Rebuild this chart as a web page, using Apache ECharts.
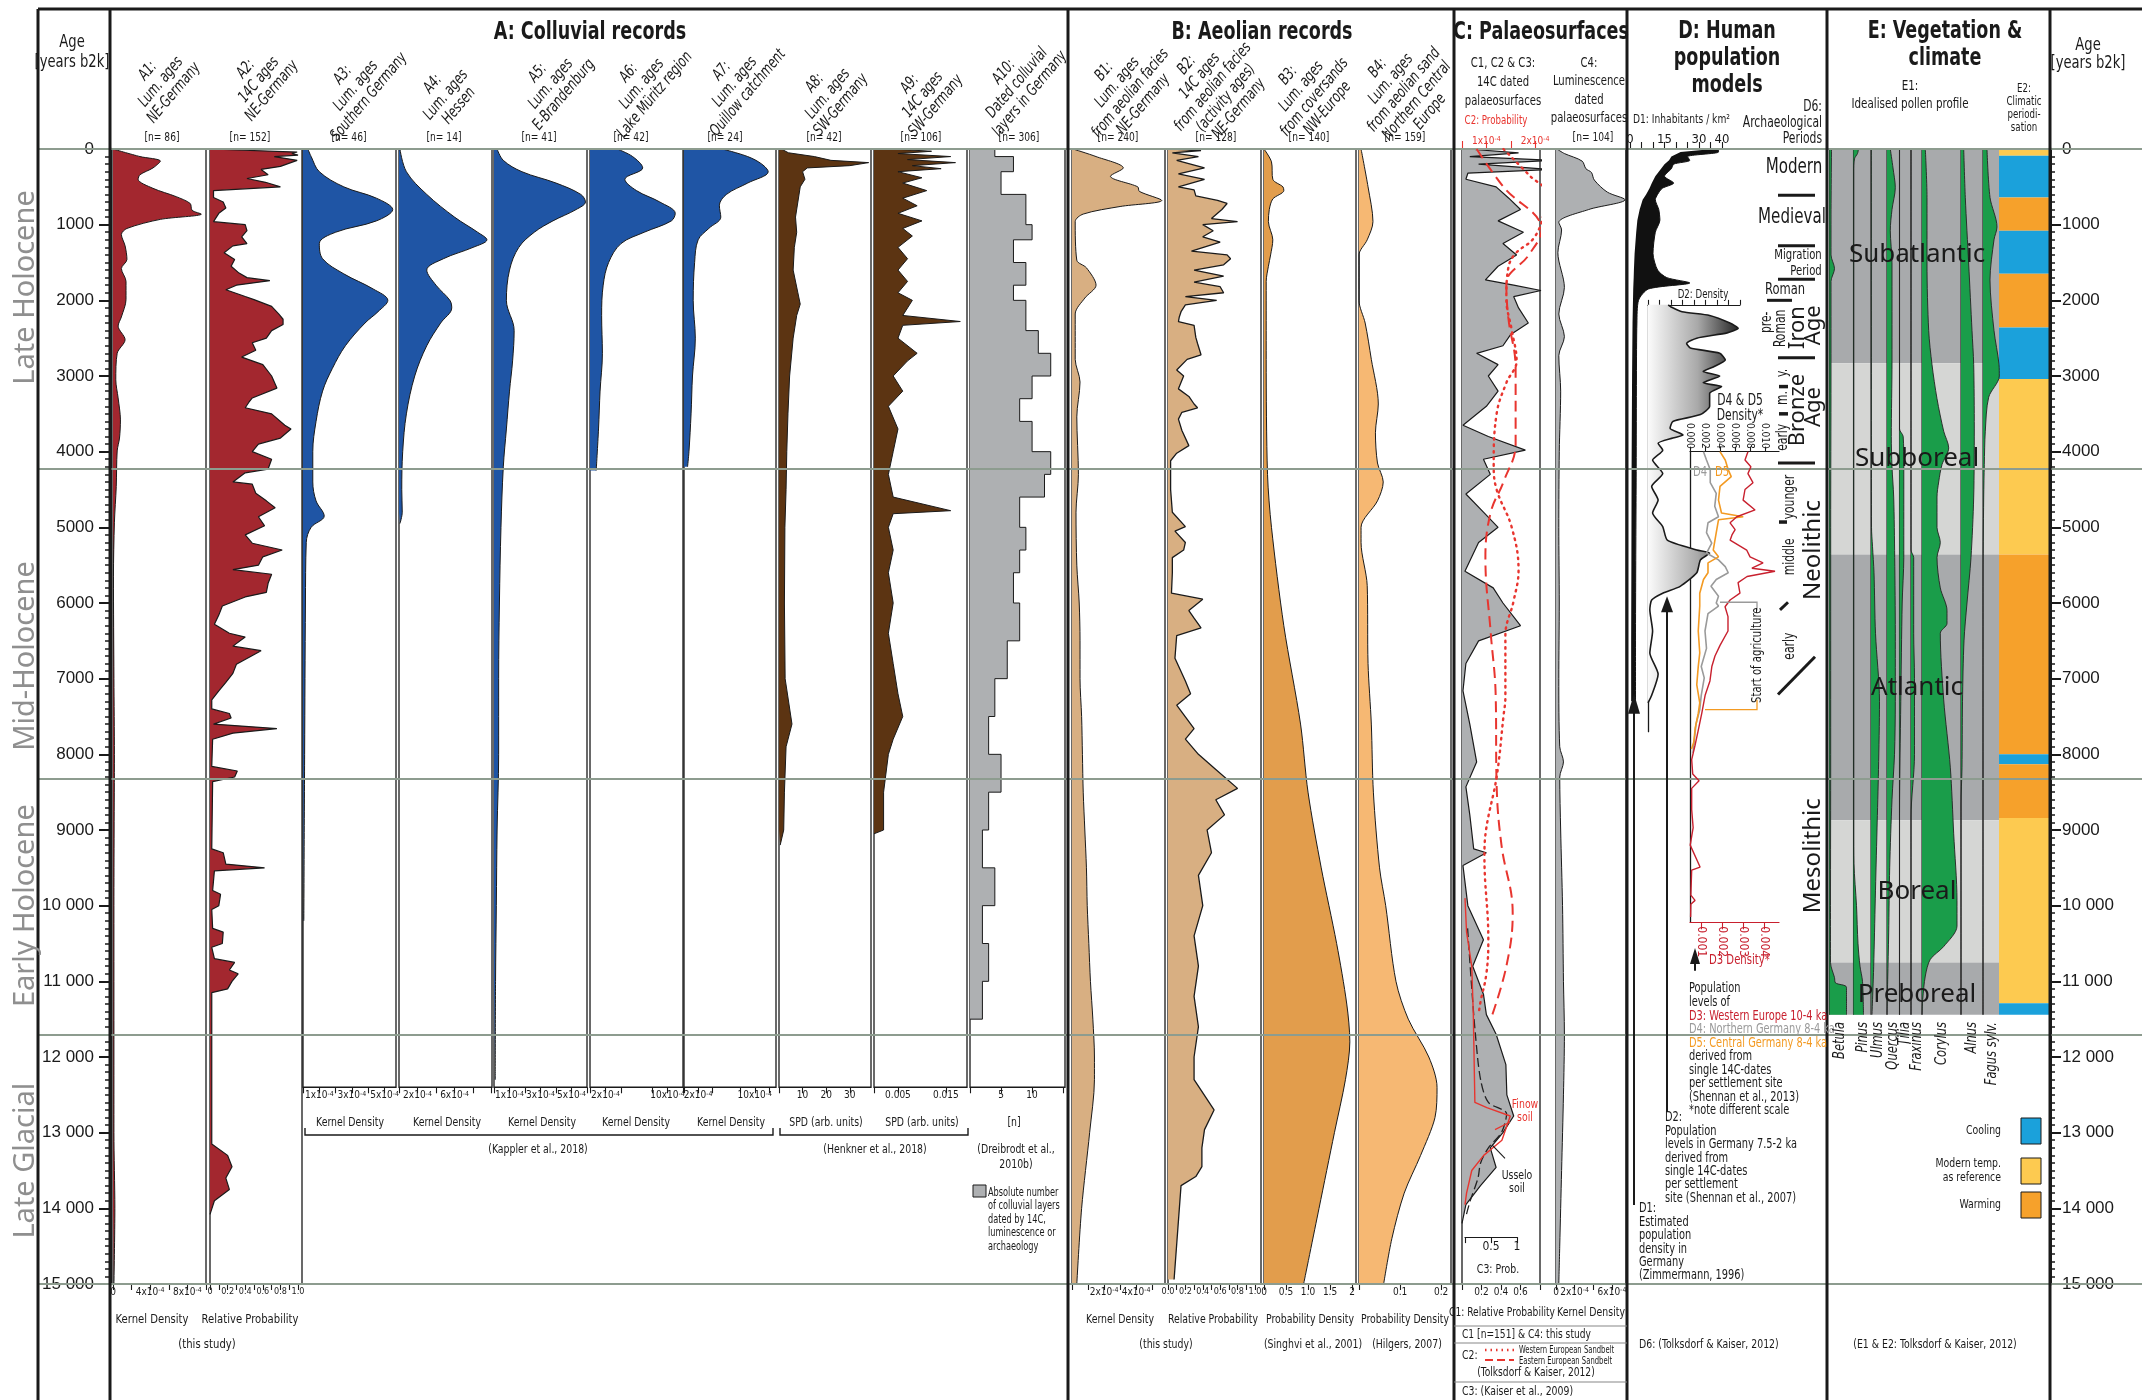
<!DOCTYPE html>
<html><head><meta charset="utf-8"><title>Holocene colluvial, aeolian and human records</title>
<script src="https://cdn.jsdelivr.net/npm/echarts@6.0.0/dist/echarts.min.js"></script>
<style>html,body{margin:0;padding:0;background:#fff}#chart{width:2142px;height:1400px}</style>
</head><body><div id="chart"></div>
<script>
// ===================== DATA (ages in years b2k) =====================
// A: colluvial records  [age, value]
const a1KernelDensity = [[0,0],[100,2.9],[160,5.1],[250,4.3],[340,2.9],[400,2.7],[520,4.3],[630,6.8],[720,8.3],[810,8.5],[860,9.5],[930,5.1],[1050,1.5],[1130,0.9],[1280,1.3],[1460,1.5],[1580,0.9],[1750,1.4],[1990,1.4],[2220,0.9],[2340,0.55],[2520,1.3],[2700,0.45],[3050,0.3],[3290,0.55],[3580,0.8],[3820,0.7],[3990,0.45],[4460,0.35],[4940,0.15],[5650,0.05],[7000,0.1],[8000,0.15],[9000,0.12],[10000,0.1],[12000,0.1],[13000,0.1],[14000,0.2],[15000,0.1]]; // x10^-4
const a2RelativeProbability = [[0,0],[40,0.99],[55,0.93],[80,1.0],[100,0.73],[150,0.99],[230,0.8],[270,0.58],[340,0.66],[390,0.42],[440,0.63],[500,0.8],[550,0.04],[640,0.04],[700,0.15],[780,0.18],[850,0.1],[960,0.04],[1000,0.4],[1080,0.42],[1160,0.36],[1250,0.42],[1280,0.26],[1370,0.16],[1460,0.28],[1550,0.24],[1640,0.33],[1700,0.42],[1740,0.68],[1800,0.3],[1860,0.18],[1950,0.4],[1990,0.5],[2080,0.7],[2180,0.78],[2250,0.83],[2320,0.83],[2400,0.7],[2500,0.64],[2560,0.48],[2660,0.52],[2750,0.36],[2850,0.6],[3000,0.7],[3160,0.76],[3290,0.48],[3350,0.44],[3420,0.4],[3500,0.7],[3650,0.85],[3700,0.92],[3820,0.8],[3900,0.55],[4000,0.48],[4100,0.7],[4230,0.66],[4280,0.4],[4400,0.26],[4430,0.48],[4550,0.52],[4650,0.64],[4740,0.74],[4860,0.55],[4980,0.62],[5100,0.4],[5210,0.48],[5300,0.82],[5390,0.6],[5500,0.55],[5560,0.26],[5620,0.7],[5740,0.66],[5860,0.64],[5920,0.4],[6040,0.14],[6160,0.1],[6280,0.05],[6400,0.22],[6450,0.4],[6570,0.26],[6630,0.58],[6810,0.3],[6930,0.26],[7050,0.18],[7160,0.1],[7280,0.02],[7400,0.02],[7460,0.22],[7520,0.24],[7600,0.04],[7660,0.76],[7720,0.26],[7800,0.03],[8160,0.02],[8220,0.31],[8300,0.28],[8360,0.03],[9250,0.02],[9300,0.15],[9450,0.18],[9500,0.62],[9540,0.05],[9800,0.03],[9850,0.12],[10000,0.1],[10050,0.02],[10300,0.03],[10350,0.15],[10500,0.14],[10550,0.02],[10700,0.05],[10750,0.28],[10850,0.22],[10900,0.32],[11000,0.25],[11100,0.2],[11150,0.02],[13150,0.02],[13300,0.2],[13450,0.25],[13600,0.18],[13750,0.22],[13900,0.05],[14080,0]];
const a3KernelDensity = [[0,0.3],[100,0.5],[300,1.0],[500,2.5],[650,4.5],[800,5.5],[950,4.5],[1100,2.0],[1250,1.0],[1450,1.2],[1650,2.5],[1850,4.3],[2000,5.2],[2150,4.6],[2300,3.8],[2600,2.6],[2900,1.8],[3200,1.2],[3600,0.8],[4000,0.6],[4400,0.6],[4650,0.8],[4850,1.3],[5000,0.5],[5200,0.2],[6000,0.15],[8000,0.1],[10200,0.05]];
const a4KernelDensity = [[0,0.1],[300,0.8],[600,3.0],[900,6.0],[1100,8.5],[1200,9.5],[1300,8.0],[1450,4.8],[1600,3.0],[1800,4.0],[2000,5.5],[2100,5.7],[2300,4.5],[2600,3.0],[3000,1.7],[3500,0.8],[4000,0.4],[4500,0.3],[4800,0.35],[4950,0.1]];
const a5KernelDensity = [[0,0.2],[150,0.6],[300,1.8],[450,4.0],[600,5.6],[700,5.9],[800,5.3],[950,3.8],[1100,2.6],[1300,1.6],[1600,1.0],[2000,0.8],[2400,1.3],[2800,1.2],[3200,1.0],[3700,0.8],[4200,0.6],[5000,0.45],[6000,0.35],[7000,0.3],[8000,0.3],[9000,0.2],[10000,0.15],[11000,0.1],[12300,0.08]];
const a6KernelDensity = [[0,3.5],[100,5.5],[250,6.8],[400,4.5],[550,6.0],[700,9.0],[850,11.0],[950,10.5],[1100,7.0],[1250,4.0],[1500,2.4],[1800,1.7],[2200,1.5],[2700,1.6],[3200,1.3],[3700,1.1],[4250,0.8]];
const a7KernelDensity = [[0,5.4],[100,9.0],[200,11.0],[300,11.9],[450,9.0],[600,6.0],[750,5.0],[900,5.2],[1050,3.5],[1200,2.0],[1500,1.5],[2000,1.3],[2500,1.6],[3000,1.2],[3500,1.0],[4000,0.7],[4200,0.5]];
const a8SPD = [[0,1],[50,4],[100,15],[150,22],[180,38],[220,30],[250,12],[300,10],[400,11],[500,9],[700,8],[900,7],[1100,7.5],[1300,6.5],[1600,6],[1900,8],[2050,9],[2200,7.5],[2500,6],[3000,4.5],[3500,3.8],[4000,3.3],[4500,3],[5000,2.5],[6000,2.3],[7000,2.6],[7600,5.5],[7900,3],[8500,2.3],[9000,2],[9200,0.5]];
const a9SPD = [[0,0.004],[30,0.012],[60,0.005],[100,0.016],[140,0.007],[180,0.017],[220,0.008],[260,0.014],[300,0.005],[380,0.01],[450,0.006],[550,0.011],[650,0.006],[750,0.009],[850,0.005],[950,0.01],[1050,0.006],[1150,0.008],[1300,0.005],[1450,0.007],[1600,0.005],[1750,0.007],[1900,0.005],[2000,0.008],[2200,0.006],[2280,0.018],[2330,0.006],[2500,0.005],[2700,0.009],[2800,0.007],[3000,0.004],[3200,0.006],[3400,0.003],[3700,0.005],[4000,0.004],[4300,0.003],[4600,0.004],[4780,0.016],[4820,0.004],[5000,0.003],[5300,0.004],[5600,0.003],[6000,0.004],[6400,0.003],[6800,0.004],[7200,0.005],[7500,0.006],[7800,0.004],[8000,0.003],[8500,0.002],[9000,0.002],[9050,0]];
const a10LayerCounts = [[0,100,4],[100,300,7],[300,600,5],[600,1000,9],[1000,1200,10],[1200,1500,7],[1500,1800,9],[1800,2000,7],[2000,2400,9],[2400,2700,11],[2700,3000,13],[3000,3300,10],[3300,3600,8],[3600,4000,10],[4000,4300,13],[4300,4600,12],[4600,5000,8],[5000,5300,9],[5300,5600,8],[5600,6000,7],[6000,6500,8],[6500,7000,6],[7000,7500,4],[7500,8000,3],[8000,8500,5],[8500,9000,3],[9000,9500,2],[9500,10000,4],[10000,10500,2],[10500,11000,3],[11000,11500,2]]; // [from, to, n]

// B: aeolian records
const b1KernelDensity = [[0,0.06],[100,1.5],[250,3.2],[360,2.4],[500,4.1],[560,4.2],[680,5.6],[760,3.0],[860,0.7],[960,0.2],[1470,0.3],[1570,0.9],[1800,1.5],[1970,0.8],[2180,0.2],[2780,0.2],[3080,0.5],[3540,0.3],[4300,0.4],[4800,0.25],[5500,0.3],[6000,0.45],[6500,0.5],[7000,0.5],[7500,0.6],[8000,0.65],[8500,0.7],[9000,0.8],[9500,0.9],[10000,0.95],[10500,1.05],[11000,1.15],[11500,1.3],[12000,1.4],[12300,1.4],[13000,1.1],[14000,0.6],[15000,0.3]];
const b2RelativeProbability = [[0,0.05],[20,0.38],[50,0.05],[100,0.35],[150,0.1],[250,0.42],[330,0.12],[400,0.42],[500,0.12],[540,0.3],[620,0.32],[680,0.57],[720,0.68],[800,0.62],[920,0.5],[960,0.8],[1000,0.4],[1080,0.52],[1160,0.4],[1230,0.6],[1350,0.27],[1400,0.68],[1450,0.72],[1530,0.64],[1600,0.3],[1680,0.64],[1760,0.3],[1820,0.6],[1900,0.64],[1950,0.2],[2000,0.56],[2060,0.2],[2150,0.15],[2220,0.13],[2280,0.12],[2330,0.3],[2490,0.32],[2570,0.34],[2720,0.38],[2780,0.22],[2920,0.1],[3000,0.18],[3170,0.12],[3270,0.24],[3370,0.3],[3420,0.34],[3480,0.16],[3570,0.12],[3720,0.16],[3920,0.24],[4020,0.1],[4120,0.03],[4500,0.03],[4800,0.05],[4990,0.2],[5050,0.08],[5200,0.2],[5300,0.18],[5400,0.05],[5600,0.05],[5870,0.04],[5950,0.4],[6100,0.24],[6200,0.3],[6330,0.38],[6430,0.1],[6730,0.08],[7030,0.2],[7200,0.26],[7350,0.1],[7660,0.3],[7800,0.2],[8000,0.35],[8200,0.55],[8450,0.8],[8600,0.55],[8800,0.65],[9000,0.45],[9300,0.5],[9600,0.35],[10000,0.4],[10400,0.3],[10800,0.35],[11200,0.3],[11600,0.35],[12000,0.3],[12300,0.3],[12700,0.53],[12960,0.42],[13200,0.39],[13450,0.39],[13580,0.32],[13700,0.15],[14940,0.07]];
const b3ProbabilityDensity = [[0,0],[170,0.17],[400,0.2],[500,0.43],[550,0.45],[660,0.2],[800,0.12],[960,0.1],[1200,0.2],[1400,0.15],[1550,0.1],[1750,0.05],[2780,0.05],[4300,0.08],[5000,0.17],[6300,0.45],[7600,0.83],[8500,1.0],[9500,1.3],[10500,1.65],[11300,1.88],[11800,1.95],[12300,1.85],[13000,1.6],[14000,1.25],[15000,0.9]];
const b4ProbabilityDensity = [[0,0.005],[500,0.022],[960,0.034],[1200,0.02],[1400,0],[2000,0],[2300,0.015],[2780,0.03],[3370,0.047],[3750,0.04],[4150,0.045],[4400,0.059],[4650,0.045],[5000,0.005],[5200,0.005],[5770,0.02],[6800,0.022],[7600,0.03],[8500,0.035],[9500,0.05],[10000,0.065],[11000,0.09],[11500,0.12],[12000,0.17],[12400,0.19],[12800,0.185],[13300,0.15],[13800,0.11],[14400,0.08],[15000,0.06]];

// C: palaeosurfaces
const c1RelativeProbability = [[0,0.06],[50,0.58],[100,0.08],[150,0.91],[200,0.17],[270,0.91],[320,0.06],[400,0.04],[500,0.35],[650,0.48],[800,0.6],[950,0.37],[1100,0.63],[1250,0.42],[1400,0.56],[1550,0.37],[1730,0.24],[1800,0.53],[1870,0.81],[1950,0.53],[2100,0.58],[2300,0.68],[2450,0.5],[2600,0.42],[2700,0.15],[2850,0.37],[3000,0.27],[3200,0.37],[3400,0.25],[3650,0.01],[3800,0.27],[3980,0.65],[4100,0.22],[4300,0.29],[4560,0.04],[4800,0.22],[5000,0.37],[5200,0.17],[5580,0.03],[5800,0.32],[6000,0.42],[6300,0.6],[6500,0.17],[6800,0.04],[7160,0.01],[7600,0.08],[8100,0.15],[8430,0.04],[8800,0.08],[9250,0.12],[9300,0.25],[9470,0.01],[10000,0.06],[10450,0.22],[10800,0.11],[11170,0.22],[11440,0.25],[11700,0.35],[12100,0.45],[12500,0.46],[12780,0.53],[13000,0.42],[13200,0.29],[13460,0.35],[13700,0.19],[13950,0.04],[14200,0]];
const c2WesternSandbelt = [[0,1.35],[360,1.9],[570,2.21],[870,2.17],[1180,1.97],[1380,1.6],[1570,1.45],[1980,1.41],[2390,1.52],[2800,1.62],[3090,1.41],[3500,1.21],[4170,1.15],[4500,1.21],[5000,1.52],[5570,1.66],[5970,1.56],[6430,1.39],[7240,1.39],[7500,1.35],[8300,1.21],[8970,1.0],[9350,0.96],[10450,1.04],[10900,1.0],[11270,0.88],[11440,0.84]]; // x10^-4
const c2EasternSandbelt = [[0,0.8],[500,1.35],[1070,2.13],[1400,1.87],[1780,1.41],[2230,1.45],[2900,1.6],[3900,1.6],[4400,1.35],[4800,1.09],[5400,0.98],[6400,1.09],[7200,1.19],[8400,1.21],[9200,1.31],[10100,1.54],[10800,1.41],[11500,1.09]]; // x10^-4
const c3ProbabilityRed = [[9900,0],[10350,0.03],[10800,0.13],[11440,0.16],[12600,0.19],[12670,0.42],[12780,0.87],[13100,0.71],[13300,0.36],[13500,0.13],[13800,0.03],[13950,0]];
const c3ProbabilityBlack = [[10300,0.05],[11000,0.12],[11700,0.2],[12300,0.3],[12600,0.45],[12750,0.8],[13000,0.7],[13200,0.45],[13400,0.3],[13600,0.25],[13900,0.1],[14100,0.02]];
const c4KernelDensity = [[0,0.1],[60,0.9],[160,2.8],[260,3.2],[310,3.8],[410,4.1],[570,5.5],[670,7.4],[800,3.5],[970,0.3],[1070,0.6],[1370,0.2],[1830,0.9],[2180,0.3],[2480,0.9],[2730,0.3],[3200,0.5],[4000,0.35],[5000,0.3],[6000,0.35],[7000,0.3],[7900,0.4],[8100,0.8],[8300,0.4],[9000,0.5],[10000,0.7],[11000,0.8],[11700,0.9],[12500,0.8],[13500,0.6],[14500,0.4],[14990,0.3]]; // x10^-4

// D: human population models
const d1Inhabitants = [[0,36,38.5],[40,22,38.5],[100,18,25],[150,17,26],[200,15,19],[260,13.5,18],[360,11,15],[450,9.5,19],[520,8.5,14],[600,7,12],[670,5.5,11],[800,4.2,12.5],[940,3.2,13],[1100,2.7,11],[1380,2.0,10],[1600,1.7,12],[1700,1.6,16],[1770,1.5,26],[1850,1.4,8],[2000,1.3,3.7],[2300,1.1,3.0],[3000,0.9,2.8],[4200,0.7,2.7],[5500,0.6,2.5],[6500,0.5,2.4],[7300,0.5,2.4]]; // [age, low, high] inhabitants/km2
const d2Density = [[2060,0.22],[2080,0.24],[2150,0.37],[2200,0.67],[2300,0.89],[2370,0.98],[2430,0.86],[2500,0.53],[2570,0.42],[2630,0.46],[2700,0.78],[2790,0.84],[2880,0.71],[2940,0.6],[3000,0.78],[3090,0.6],[3140,0.8],[3230,0.67],[3400,0.67],[3510,0.57],[3600,0.27],[3690,0.24],[3780,0.38],[3820,0.27],[3890,0.11],[3980,0.16],[4110,0.05],[4290,0.16],[4460,0.04],[4640,0.11],[4810,0.05],[4990,0.16],[5170,0.21],[5300,0.53],[5340,0.67],[5430,0.57],[5600,0.53],[5780,0.35],[5870,0.16],[5960,0.04],[6090,0.02],[6370,0.05],[6660,0.02],[6940,0.11],[7220,0.04],[7320,0]];
const d3WesternEurope = [[4000,0.00321],[4110,0.00307],[4200,0.00335],[4290,0.00321],[4410,0.00345],[4500,0.00307],[4640,0.00298],[4770,0.00355],[4860,0.00268],[4940,0.00236],[5030,0.0026],[5100,0.00245],[5170,0.00236],[5300,0.00315],[5390,0.00331],[5470,0.00393],[5540,0.0034],[5580,0.0045],[5650,0.00317],[5730,0.00274],[5870,0.00283],[5960,0.00236],[6050,0.00212],[6180,0.00226],[6370,0.00226],[6560,0.00188],[6700,0.00164],[6840,0.00149],[7030,0.0014],[7220,0.00117],[7460,0.00101],[7700,0.00083],[7880,0.00069],[8070,0.00053],[8260,0.00058],[8350,0.00088],[8450,0.00053],[8730,0.00053],[8970,0.0006],[9200,0.00046],[9490,0.00093],[9530,0.00053],[9860,0.00049],[9930,0.00069],[9980,0.00049],[10150,0.00048]];
const d4NorthernGermany = [[4000,0.0018],[4110,0.0022],[4240,0.0027],[4410,0.0027],[4550,0.0035],[4720,0.0033],[4860,0.0038],[4940,0.0024],[5070,0.0022],[5210,0.0029],[5340,0.0022],[5430,0.0038],[5520,0.0047],[5600,0.0051],[5690,0.0035],[5780,0.0028],[5910,0.0038],[6000,0.0035],[6040,0.0038],[6140,0.0024],[6370,0.002],[6600,0.0022],[6840,0.0015],[6990,0.0019],[7220,0.0015],[7410,0.0013],[7600,0.0008],[7790,0.0006],[7980,0.0004]];
const d5CentralGermany = [[4000,0.004],[4110,0.0047],[4240,0.0051],[4330,0.0055],[4460,0.004],[4640,0.0038],[4810,0.0042],[4860,0.0071],[4900,0.0038],[5070,0.0035],[5300,0.0031],[5390,0.0038],[5470,0.0024],[5600,0.0024],[5690,0.0018],[5870,0.0013],[6040,0.0013],[6370,0.0011],[6660,0.0013],[6840,0.0011],[7080,0.0009],[7320,0.0013],[7460,0.0011],[7650,0.0007],[7840,0.0005],[7930,0.0002]];

// E: vegetation & climate (idealised pollen profile, relative widths)
const e1Taxa = ['Betula','Pinus','Ulmus','Quercus','Tilia','Fraxinus','Corylus','Alnus','Fagus sylv.'];
const e1Baselines = [0.5, 24.5, 42, 58, 70.5, 82, 93, 132, 154];
const e1Betula = [[0,2],[1000,1.5],[1400,1.5],[1580,5],[1750,1.5],[3000,1.5],[5000,1.2],[8000,1.2],[10000,1],[10750,1],[10950,5],[11020,6],[11080,17],[11440,17]];
const e1Pinus = [[0,5],[60,4],[130,1],[300,0.3],[9000,0.3],[9440,0.5],[10000,3],[10500,4.5],[10800,6.5],[11000,9],[11440,10]];
const e1Ulmus = [[0,0.3],[5000,0.5],[5250,1.5],[5600,3],[6400,4.5],[7300,8.5],[8200,7.5],[9000,6],[9900,4.3],[10800,2.7],[11440,1]];
const e1Quercus = [[0,3.3],[250,6],[510,8.3],[800,5],[1080,3.3],[1500,5],[2800,5],[3800,4.3],[4200,5],[4600,6.7],[5400,7.7],[6400,8.3],[7300,8.3],[8000,7.5],[8600,5],[9500,2.7],[10360,1.7],[10980,0.7],[11440,0]];
const e1Tilia = [[0,0],[3700,0],[3800,3.7],[4200,4.3],[4600,4.3],[5400,4.3],[6000,2.7],[7300,1.3],[8800,0],[11440,0]];
const e1Fraxinus = [[0,0],[5300,0],[5400,2.7],[6400,2.7],[7000,3.5],[8000,3.5],[8830,0],[11440,0]];
const e1Corylus = [[0,3.3],[640,5],[1520,5],[2400,6.7],[2850,10],[3300,15],[3730,21.7],[3950,26.7],[4170,20],[4400,16.7],[4600,15],[5000,15],[5200,18.3],[5400,15],[5800,18.3],[6100,25],[6270,25],[6400,18.3],[7280,21.7],[8170,28.3],[9050,31.7],[9930,35],[10270,35],[10540,21.7],[10710,8.3],[10930,3.3],[11240,0.7],[11440,0]];
const e1Alnus = [[0,2.7],[640,4.3],[1520,7.7],[2400,11],[2850,12.7],[3700,13.3],[4600,12.7],[5400,10],[6000,6],[6500,3],[7300,1.5],[8170,1],[8670,0],[11440,0]];
const e1Fagus = [[0,4],[640,7],[1030,14],[1200,11],[1730,7],[2400,11],[2850,16],[3000,16.3],[3280,5.7],[3730,2.3],[4170,1.3],[4600,0.7],[5780,0],[11440,0]];
const e1TaxonCurves = [e1Betula, e1Pinus, e1Ulmus, e1Quercus, e1Tilia, e1Fraxinus, e1Corylus, e1Alnus, e1Fagus];
const e1Zones = [[0,2830,'Subatlantic',0],[2830,5360,'Subboreal',1],[5360,8870,'Atlantic',0],[8870,10750,'Boreal',1],[10750,11440,'Preboreal',0]];
const e2Climate = [[0,90,'modern'],[90,640,'cooling'],[640,1080,'warming'],[1080,1650,'cooling'],[1650,2360,'warming'],[2360,3040,'cooling'],[3040,5360,'modern'],[5360,8000,'warming'],[8000,8130,'cooling'],[8130,8840,'warming'],[8840,11290,'modern'],[11290,11440,'cooling']];

// stratigraphic boundaries drawn across the figure
const periodBounds = [0, 4230, 8320, 11700, 15000];
const periodNames = [['Late Holocene',1830],['Mid-Holocene',6700],['Early Holocene',10000],['Late Glacial',13370]];

// ===================== LAYOUT HELPERS =====================
const TOP = 149, PPY = 1135 / 15000;
const FN = '"DejaVu Sans Condensed","Liberation Sans Narrow","Arial Narrow",sans-serif';
const FNUM = '"Liberation Sans","DejaVu Sans",sans-serif';
const FH = '"Noto Sans","Open Sans","DejaVu Sans",sans-serif';
const INK = '#1a1a1a';
const sup4 = n => n + 'x10{s|-4}';

const grids = [], xAxes = [], yAxes = [], series = [];

function addGrid(left, right, minAge, maxAge, border, yLine) {
  const gi = grids.length;
  grids.push({left, top: TOP + minAge * PPY, width: right - left, height: (maxAge - minAge) * PPY,
    show: !!border, borderColor: INK, borderWidth: border || 0, backgroundColor: 'rgba(0,0,0,0)',
    containLabel: false, outerBoundsMode: 'none'});
  const cats = [];
  for (let a = minAge; a <= maxAge; a += 10) cats.push(String(a));
  const yi = yAxes.length;
  yAxes.push({gridIndex: gi, type: 'category', data: cats, inverse: true, boundaryGap: false,
    axisLine: {show: !!yLine, lineStyle: {color: INK, width: 1.3}}, axisTick: {show: false},
    axisLabel: {show: false}, splitLine: {show: false}});
  return {gi, yi, minAge, maxAge};
}

function addX(g, o) {
  const xi = xAxes.length, col = o.color || INK, labs = o.labels || [];
  const tol = (o.max - o.min) * 1e-6, fs = o.fs || 10;
  xAxes.push({gridIndex: g.gi, type: 'value', min: o.min, max: o.max, position: o.pos || 'bottom',
    axisLine: {show: !!o.line, onZero: false, lineStyle: {color: col, width: o.lineW || 1.2}},
    splitLine: {show: false}, minorTick: {show: false},
    axisTick: {show: !!o.ticks, customValues: o.ticks || [], length: o.tickLen || 6, lineStyle: {color: col, width: 1.1}},
    axisLabel: {show: labs.length > 0, customValues: labs.map(l => l[0]), showMinLabel: true, showMaxLabel: true, hideOverlap: false,
      formatter: v => { const f = labs.find(l => Math.abs(l[0] - v) <= tol); return f ? f[1] : ''; },
      rich: {s: {fontSize: Math.round(fs * 0.7), fontFamily: FN, color: col, verticalAlign: 'top', lineHeight: fs}},
      fontFamily: FN, fontSize: fs, color: col, margin: o.margin ?? 3, rotate: o.rotate || 0}});
  return xi;
}

const toIdx = (g, pts) => pts.map(p => [p[1], Math.round((p[0] - g.minAge) / 10)]);

function addLine(g, xi, pts, o) {
  const s = {type: 'line', xAxisIndex: xi, yAxisIndex: g.yi, data: toIdx(g, pts), symbol: 'none',
    showSymbol: false, smooth: o.smooth || false, clip: true, silent: true, animation: false, z: o.z || 3,
    lineStyle: {color: o.stroke || INK, width: o.lw ?? 1, type: o.dash || 'solid', cap: o.cap || 'butt'}};
  if (o.fill) s.areaStyle = {color: o.fill, opacity: 1};
  if (o.stack) s.stack = o.stack;
  if (o.noLine) s.lineStyle.opacity = 0;
  series.push(s);
}

// ===================== AGE AXES & PERIOD LINES =====================
const overlay = addGrid(38, 2142, 0, 15000, 0);
// the overlay uses value axes instead of the default category axis
yAxes[overlay.yi] = {gridIndex: overlay.gi, type: 'value', min: 0, max: 15000, inverse: true, show: false};
xAxes.push({gridIndex: overlay.gi, type: 'value', min: 0, max: 1, show: false});
const overlayX = xAxes.length - 1;
series.push({type: 'line', xAxisIndex: overlayX, yAxisIndex: overlay.yi, data: [], silent: true, animation: false, z: 20,
  markLine: {silent: true, animation: false, symbol: 'none', label: {show: false},
    lineStyle: {color: '#8d9c8f', width: 2, type: 'solid'}, data: periodBounds.map(b => ({yAxis: b}))}});

function ageAxisGrid(left, pos) {
  const gi = grids.length;
  grids.push({left, top: TOP, width: 1, height: 15000 * PPY, show: false, containLabel: false, outerBoundsMode: 'none'});
  xAxes.push({gridIndex: gi, type: 'value', show: false, min: 0, max: 1});
  yAxes.push({gridIndex: gi, type: 'value', min: 0, max: 15000, interval: 1000, inverse: true, position: pos,
    axisLine: {show: true, onZero: false, lineStyle: {color: INK, width: 3}},
    axisTick: {show: true, length: 11, lineStyle: {color: INK, width: 2}},
    minorTick: {show: true, splitNumber: 10, length: 5, lineStyle: {color: INK, width: 1.5}},
    splitLine: {show: false}, minorSplitLine: {show: false},
    axisLabel: {fontFamily: FNUM, fontSize: 17, color: INK, margin: pos === 'left' ? 16 : 12, showMinLabel: true, showMaxLabel: true,
      formatter: v => v >= 10000 ? Math.floor(v / 1000) + ' 000' : String(v)}});
}
ageAxisGrid(110, 'left');
ageAxisGrid(2049, 'right');

// ===================== A: COLLUVIAL RECORDS =====================
const RED = '#a3272f', BLUE = '#1f55a5', BROWN = '#5c3412', GREY = '#aeb0b2';
const gA1 = addGrid(113, 206, 0, 15000, 1.3);
addLine(gA1, addX(gA1, {min: 0, max: 10, ticks: [0,2,4,6,8,10], labels: [[0,'0'],[4,sup4(4)],[8,sup4(8)]]}), a1KernelDensity, {fill: RED, smooth: 0.3, lw: 1});
const gA2 = addGrid(210, 302, 0, 15000, 1.3);
addLine(gA2, addX(gA2, {min: 0, max: 1.045, ticks: [0,.1,.2,.3,.4,.5,.6,.7,.8,.9,1], labels: [[0,'0'],[.2,'0.2'],[.4,'0.4'],[.6,'0.6'],[.8,'0.8'],[1,'1.0']], fs: 9}), a2RelativeProbability, {fill: RED, lw: 1.2});

const A_BOTTOM = 12400;
function colluvialPlot(left, right, max, ticks, labels, pts, fill, smooth) {
  const g = addGrid(left, right, 0, A_BOTTOM, 1.3);
  addLine(g, addX(g, {min: 0, max, ticks, labels}), pts, {fill, smooth, lw: 1});
  return g;
}
colluvialPlot(303, 396, 5.7, [0,1,2,3,4,5], [[1,sup4(1)],[3,sup4(3)],[5,sup4(5)]], a3KernelDensity, BLUE, 0.35);
colluvialPlot(399, 492, 10.05, [0,2,4,6,8,10], [[2,sup4(2)],[6,sup4(6)]], a4KernelDensity, BLUE, 0.35);
colluvialPlot(494, 587, 6.0, [0,1,2,3,4,5,6], [[1,sup4(1)],[3,sup4(3)],[5,sup4(5)]], a5KernelDensity, BLUE, 0.35);
colluvialPlot(590, 683, 12, [0,2,4,6,8,10,12], [[2,sup4(2)],[6,sup4(6)],[10,sup4(10)]], a6KernelDensity, BLUE, 0.35);
colluvialPlot(684, 776, 13, [0,2,4,6,8,10,12], [[2,sup4(2)],[6,sup4(6)],[10,sup4(10)]], a7KernelDensity, BLUE, 0.35);
colluvialPlot(779, 871, 39, [0,10,20,30], [[10,'10'],[20,'20'],[30,'30']], a8SPD, BROWN, false);
colluvialPlot(874, 967, 0.0194, [0,0.005,0.01,0.015], [[0.005,'0.005'],[0.01,'0.010'],[0.015,'0.015']], a9SPD, BROWN, false);
const a10Steps = a10LayerCounts.flatMap(([s, e, n]) => [[s, n], [e, n]]).concat([[11500, 0]]);
colluvialPlot(970, 1065, 15.3, [0,5,10,15], [[5,'5'],[10,'10']], [[0,0]].concat(a10Steps), GREY, false);

// ===================== B: AEOLIAN RECORDS =====================
const TAN = '#d8af82', ORANGE = '#e29d4c', LORANGE = '#f6b873';
const gB1 = addGrid(1072, 1165, 0, 15000, 1.3);
addLine(gB1, addX(gB1, {min: 0, max: 5.8, ticks: [0,1,2,3,4,5], labels: [[2,sup4(2)],[4,sup4(4)]]}), b1KernelDensity, {fill: TAN, smooth: 0.3});
const gB2 = addGrid(1168, 1261, 0, 15000, 1.3);
addLine(gB2, addX(gB2, {min: 0, max: 1.07, ticks: [0,.1,.2,.3,.4,.5,.6,.7,.8,.9,1], labels: [[0,'0.0'],[.2,'0.2'],[.4,'0.4'],[.6,'0.6'],[.8,'0.8'],[1,'1.0']], fs: 9}), b2RelativeProbability, {fill: TAN, lw: 1.3});
const gB3 = addGrid(1264, 1356, 0, 15000, 1.3);
addLine(gB3, addX(gB3, {min: 0, max: 2.09, ticks: [0,.5,1,1.5,2], labels: [[0,'0'],[.5,'0.5'],[1,'1.0'],[1.5,'1.5'],[2,'2']]}), b3ProbabilityDensity, {fill: ORANGE, smooth: 0.3});
const gB4 = addGrid(1359, 1451, 0, 15000, 1.3);
addLine(gB4, addX(gB4, {min: 0, max: 0.224, ticks: [0,0.1,0.2], labels: [[0.1,'0.1'],[0.2,'0.2']]}), b4ProbabilityDensity, {fill: LORANGE, smooth: 0.3});

// ===================== C: PALAEOSURFACES =====================
const CRED = '#e8352f';
const gC1 = addGrid(1462, 1540, 0, 15000, 1.3);
addLine(gC1, addX(gC1, {min: 0, max: 0.8, ticks: [0,.2,.4,.6,.8], labels: [[.2,'0.2'],[.4,'0.4'],[.6,'0.6']]}), c1RelativeProbability, {fill: GREY, lw: 1.2});
const xC2 = addX(gC1, {min: 0.5, max: 2.1, pos: 'top', line: true, color: CRED, ticks: [0.5,1,1.5,2], tickLen: 8, labels: [[1,sup4(1)],[2,sup4(2)]], margin: 3});
addLine(gC1, xC2, c2WesternSandbelt, {stroke: CRED, lw: 2.4, dash: [1.5, 5], cap: 'round', smooth: 0.4, z: 6});
addLine(gC1, xC2, c2EasternSandbelt, {stroke: CRED, lw: 2, dash: [11, 6], smooth: 0.4, z: 6});
const gC3 = addGrid(1465, 1517, 0, 14380, 0);
const xC3 = addX(gC3, {min: 0, max: 1, line: true, ticks: [0, 0.5, 1], labels: [[0.5,'0.5'],[1,'1']], fs: 12, margin: 4});
addLine(gC3, xC3, c3ProbabilityBlack, {stroke: '#222', lw: 1.3, dash: [9, 4], smooth: 0.3, z: 6});
addLine(gC3, xC3, c3ProbabilityRed, {stroke: CRED, lw: 1.4, z: 7});
const gC4 = addGrid(1556, 1626, 0, 15000, 1.3);
addLine(gC4, addX(gC4, {min: 0, max: 7.5, ticks: [0,2,4,6], labels: [[0,'0'],[2,sup4(2)],[6,sup4(6)]]}), c4KernelDensity, {fill: GREY, smooth: 0.3});

// ===================== D: HUMAN POPULATION =====================
const gD1 = addGrid(1630, 1722, 0, 7300, 0);
const xD1 = addX(gD1, {min: 0, max: 40, pos: 'top', line: true, lineW: 1.5, ticks: [0,5,10,15,20,25,30,35,40], tickLen: 7, labels: [[0,'0'],[15,'15'],[30,'30'],[40,'40']], fs: 13, margin: 3});
addLine(gD1, xD1, d1Inhabitants.map(r => [r[0], r[1]]), {stack: 'd1', noLine: true});
addLine(gD1, xD1, d1Inhabitants.map(r => [r[0], r[2] - r[1]]), {stack: 'd1', fill: '#111', stroke: '#111', lw: 1, smooth: 0.25});

const gD2 = addGrid(1648, 1740, 2060, 7700, 0, true);
const xD2 = addX(gD2, {min: 0, max: 1, pos: 'top', line: true, ticks: [0,0.125,0.25,0.375,0.5,0.625,0.75,0.875,1], tickLen: 5});
addLine(gD2, xD2, d2Density, {fill: {type: 'linear', x: 0, y: 0, x2: 1, y2: 0, colorStops: [{offset: 0, color: '#fbfbfb'}, {offset: 0.55, color: '#a9a9a9'}, {offset: 1, color: '#262626'}]}, lw: 1.6, smooth: 0.2});

const gD3 = addGrid(1690, 1779, 4000, 10220, 0, true);
const xD45 = addX(gD3, {min: 0, max: 0.01187, pos: 'top', line: true, ticks: [0,0.002,0.004,0.006,0.008,0.01], tickLen: 5, labels: [[0,'0.000'],[0.002,'0.002'],[0.004,'0.004'],[0.006,'0.006'],[0.008,'0.008'],[0.01,'0.010']], fs: 10, rotate: 90, margin: 3});
const xD3 = addX(gD3, {min: 0.00045, max: 0.00469, pos: 'bottom', line: true, color: '#c8202e', ticks: [0.001,0.002,0.003,0.004], tickLen: 7, labels: [[0.001,'0.001'],[0.002,'0.002'],[0.003,'0.003'],[0.004,'0.004']], fs: 12, rotate: -90, margin: 4});
addLine(gD3, xD3, d3WesternEurope, {stroke: '#c8202e', lw: 1.4, z: 5});
addLine(gD3, xD45, d4NorthernGermany, {stroke: '#9a9a9a', lw: 1.6, z: 4});
addLine(gD3, xD45, d5CentralGermany, {stroke: '#f39a22', lw: 1.6, z: 4});

// ===================== E: VEGETATION & CLIMATE =====================
const ZONE_SHADES = ['#a8aaac', '#d5d6d4'];
const CLIMATE_COLORS = {cooling: '#1ba1db', modern: '#fdca50', warming: '#f6a12b'};
const gE1 = addGrid(1829, 1999, 0, 11440, 0);
const xE1 = addX(gE1, {min: 0, max: 170});
const bandRender = colorOf => (params, api) => {
  const y0 = api.coord([0, api.value(0)])[1], y1 = api.coord([0, api.value(1)])[1], cs = params.coordSys;
  return {type: 'rect', shape: {x: cs.x, y: y0, width: cs.width, height: y1 - y0}, style: {fill: colorOf(api.value(2))}};
};
series.push({type: 'custom', xAxisIndex: xE1, yAxisIndex: gE1.yi, silent: true, animation: false, z: 1,
  data: e1Zones.map(z => [z[0] / 10, z[1] / 10, z[3]]), renderItem: bandRender(k => ZONE_SHADES[k])});
e1TaxonCurves.forEach((curve, i) => {
  const base = e1Baselines[i];
  addLine(gE1, xE1, curve.map(p => [p[0], base]), {stack: 'e' + i, stroke: '#222', lw: 1.1, z: 3});
  addLine(gE1, xE1, curve, {stack: 'e' + i, fill: '#1a9d4a', stroke: '#222', lw: 0.9, smooth: 0.3, z: 4});
});
const climateKinds = ['cooling', 'modern', 'warming'];
const gE2 = addGrid(1999, 2049, 0, 11440, 0);
const xE2 = addX(gE2, {min: 0, max: 1});
series.push({type: 'custom', xAxisIndex: xE2, yAxisIndex: gE2.yi, silent: true, animation: false, z: 2,
  data: e2Climate.map(c => [c[0] / 10, c[1] / 10, climateKinds.indexOf(c[2])]),
  renderItem: bandRender(k => CLIMATE_COLORS[climateKinds[k]])});

// ===================== RENDER =====================
const chart = echarts.init(document.getElementById('chart'), null, {renderer: 'canvas', width: 2142, height: 1400});
chart.setOption({animation: false, backgroundColor: '#ffffff', grid: grids, xAxis: xAxes, yAxis: yAxes, series});

const Y = age => chart.convertToPixel({gridIndex: overlay.gi}, [0, age])[1];

// ---------- annotation helpers ----------
const G = [];
function T(x, y, text, o = {}) {
  const fam = o.family || FN;
  const font = `${o.italic ? 'italic ' : ''}${o.bold ? 'bold ' : ''}${o.size || 13}px ${fam}`;
  G.push({type: 'text', x, y, rotation: o.rot || 0, scaleX: o.sx ?? (fam === FN ? 0.86 : 1), silent: true, z: 100,
    style: {text, fill: o.color || INK, font, align: o.align || 'center', textAlign: o.align || 'center',
      verticalAlign: o.va || 'middle', textVerticalAlign: o.va || 'middle', lineHeight: o.lh || Math.round((o.size || 13) * 1.15)}});
}
function L(x1, y1, x2, y2, w = 1.2, color = INK, dash) {
  G.push({type: 'line', silent: true, z: 90, shape: {x1, y1, x2, y2}, style: {stroke: color, lineWidth: w, lineDash: dash || null}});
}
function PL(points, w = 1.2, color = INK) {
  G.push({type: 'polyline', silent: true, z: 90, shape: {points}, style: {stroke: color, lineWidth: w, fill: null}});
}
function ARROW(x, yTip, yTail, hw, hh) {
  L(x, yTail, x, yTip + hh - 2, 2);
  G.push({type: 'polygon', silent: true, z: 91, shape: {points: [[x, yTip], [x - hw, yTip + hh], [x + hw, yTip + hh]]}, style: {fill: INK}});
}

// frame
L(38, 9, 2142, 9, 3);
[38, 110, 1068, 1454, 1627, 1827, 2050].forEach(x => L(x, 9, x, 1400, 3));

// age-axis headers and epoch names
T(72, 43, 'Age', {size: 17}); T(72, 63, '[years b2k]', {size: 17});
T(2088, 46, 'Age', {size: 17}); T(2088, 64, '[years b2k]', {size: 17});
periodNames.forEach(([n, a]) => T(26, Y(a), n, {rot: Math.PI / 2, size: 29, family: FH, color: '#8f8f8f'}));

// panel titles
const titleStyle = {bold: true, size: 25, sx: 0.78};
T(590, 32, 'A: Colluvial records', titleStyle);
T(1262, 32, 'B: Aeolian records', titleStyle);
T(1541, 32, 'C: Palaeosurfaces', titleStyle);
T(1727, 58, 'D: Human\npopulation\nmodels', Object.assign({lh: 27}, titleStyle));
T(1945, 45, 'E: Vegetation &\nclimate', Object.assign({lh: 27}, titleStyle));

// slanted column headers (block centres)
const colHeads = [
  ['A1:\nLum. ages\nNE-Germany', 161, 82], ['A2:\n14C ages\nNE-Germany', 259, 80],
  ['A3:\nLum. ages\nSouthern Germany', 356, 86], ['A4:\nLum. ages\nHessen', 446, 95],
  ['A5:\nLum. ages\nE-Brandenburg', 551, 84], ['A6:\nLum. ages\nLake Müritz region', 642, 84],
  ['A7:\nLum. ages\nQuillow catchment', 735, 82], ['A8:\nLum. ages\nSW-Germany', 828, 94],
  ['A9:\n14C ages\nSW-Germany', 923, 95], ['A10:\nDated colluvial\nlayers in Germany', 1017, 83],
  ['B1:\nLum. ages\nfrom aeolian facies\nNE-Germany', 1124, 88],
  ['B2:\n14C ages\nfrom aeolian facies\n(activity ages)\nNE-Germany', 1213, 87],
  ['B3:\nLum. ages\nfrom coversands\nNW-Europe', 1308, 92],
  ['B4:\nLum. ages\nfrom aeolian sand\nNorthern Central\nEurope', 1404, 90]];
colHeads.forEach(([t, x, y]) => T(x, y, t, {italic: true, size: 16, lh: 17, sx: 0.8, rot: 50 * Math.PI / 180}));

// sample sizes
[[162,86],[250,152],[349,46],[444,14],[539,41],[631,42],[725,24],[824,42],[921,106],[1019,306],[1118,240],[1216,128],[1309,140],[1405,159],[1593,104]]
  .forEach(([x, n]) => T(x, 138, `[n= ${n}]`, {size: 13, sx: 0.78}));

// C headers
T(1503, 54, 'C1, C2 & C3:\n14C dated\npalaeosurfaces', {size: 14, lh: 19, va: 'top', sx: 0.8});
T(1589, 54, 'C4:\nLuminescence\ndated\npalaeosurfaces', {size: 14, lh: 18.5, va: 'top', sx: 0.8});
T(1496, 121, 'C2: Probability', {size: 12, color: CRED, sx: 0.8});
// D headers
T(1633, 120, 'D1: Inhabitants / km\u00B2', {size: 13, align: 'left', sx: 0.78});
T(1822, 123, 'D6:\nArchaeological\nPeriods', {size: 15, lh: 16, align: 'right', sx: 0.8});
// E headers
T(1910, 95, 'E1:\nIdealised pollen profile', {size: 14, lh: 18, sx: 0.82});
T(2024, 108, 'E2:\nClimatic\nperiodi-\nsation', {size: 12, lh: 13, sx: 0.8});

// bottom captions, panel A
T(152, 1320, 'Kernel Density', {size: 13}); T(250, 1320, 'Relative Probability', {size: 13});
T(207, 1345, '(this study)', {size: 13});
[[350,'Kernel Density'],[447,'Kernel Density'],[542,'Kernel Density'],[636,'Kernel Density'],[731,'Kernel Density'],[826,'SPD (arb. units)'],[922,'SPD (arb. units)'],[1014,'[n]']]
  .forEach(([x, t]) => T(x, 1123, t, {size: 13, sx: 0.8}));
PL([[305, 1128], [305, 1135], [773, 1135], [773, 1128]], 1.4);
PL([[780, 1128], [780, 1135], [968, 1135], [968, 1128]], 1.4);
T(538, 1150, '(Kappler et al., 2018)', {size: 13, sx: 0.8});
T(875, 1150, '(Henkner et al., 2018)', {size: 13, sx: 0.8});
T(1016, 1157, '(Dreibrodt et al.,\n2010b)', {size: 13, lh: 15, sx: 0.8});
G.push({type: 'rect', silent: true, z: 90, shape: {x: 973, y: 1185, width: 13, height: 12}, style: {fill: GREY, stroke: INK, lineWidth: 1}});
T(988, 1186, 'Absolute number\nof colluvial layers\ndated by 14C,\nluminescence or\narchaeology', {size: 12, lh: 13.5, align: 'left', va: 'top', sx: 0.76});

// panel B captions
[[1120,'Kernel Density'],[1213,'Relative Probability'],[1310,'Probability Density'],[1405,'Probability Density']].forEach(([x, t]) => T(x, 1320, t, {size: 13, sx: 0.8}));
T(1166, 1345, '(this study)', {size: 13, sx: 0.8}); T(1313, 1345, '(Singhvi et al., 2001)', {size: 13, sx: 0.8}); T(1407, 1345, '(Hilgers, 2007)', {size: 13, sx: 0.8});

// panel C captions
T(1502, 1313, 'C1: Relative Probability', {size: 13, sx: 0.78}); T(1591, 1313, 'Kernel Density', {size: 13, sx: 0.8});
L(1454, 1326, 1627, 1326, 1.2, '#888'); L(1454, 1343, 1627, 1343, 1.2, '#888'); L(1454, 1382, 1627, 1382, 1.2, '#888');
T(1462, 1335, 'C1 [n=151] & C4: this study', {size: 13, align: 'left', sx: 0.78});
T(1462, 1356, 'C2:', {size: 13, align: 'left', sx: 0.8});
L(1485, 1350, 1514, 1350, 2.4, CRED, [1.5, 4]); L(1485, 1360, 1514, 1360, 2, CRED, [8, 4]);
T(1519, 1350, 'Western European Sandbelt', {size: 10, align: 'left', sx: 0.76});
T(1519, 1361, 'Eastern European Sandbelt', {size: 10, align: 'left', sx: 0.76});
T(1536, 1373, '(Tolksdorf & Kaiser, 2012)', {size: 13, sx: 0.78});
T(1462, 1392, 'C3: (Kaiser et al., 2009)', {size: 13, align: 'left', sx: 0.8});
T(1498, 1270, 'C3: Prob.', {size: 13, sx: 0.8});
T(1525, Y(12720), 'Finow\nsoil', {size: 13, lh: 13, color: CRED, sx: 0.8});
L(1510, Y(12860), 1495, Y(12960), 1.2, CRED);
T(1517, Y(13660), 'Usselo\nsoil', {size: 13, lh: 13, sx: 0.8});
L(1505, Y(13340), 1492, Y(13160), 1.1);

// panel D annotations
T(1703, Y(1930), 'D2: Density', {size: 12, sx: 0.8});
T(1740, Y(3430), 'D4 & D5\nDensity*', {size: 15, lh: 15, sx: 0.8});
T(1700, Y(4270), 'D4', {size: 14, color: '#9a9a9a', sx: 0.8}); T(1722, Y(4270), 'D5', {size: 14, color: '#f39a22', sx: 0.8});
PL([[1720, Y(5990)], [1757, Y(5990)], [1757, Y(6100)]], 1.3, '#9a9a9a');
PL([[1705, Y(7410)], [1757, Y(7410)], [1757, Y(7280)]], 1.3, '#f39a22');
T(1757, Y(6690), 'Start of agriculture', {size: 14, rot: Math.PI / 2, sx: 0.8});
T(1709, Y(10720), 'D3 Density*', {size: 14, align: 'left', color: '#c8202e', sx: 0.8});
ARROW(1634, Y(7200), 1205, 6, 20);
ARROW(1667, Y(5910), 1112, 6, 16);
ARROW(1695, Y(10560), Y(10860), 5, 16);
const noteStyle = {size: 14, lh: 13.4, align: 'left', va: 'top', sx: 0.78};
T(1689, 982, 'Population\nlevels of', noteStyle);
T(1689, 1016, 'D3: Western Europe 10-4 ka', {size: 14, align: 'left', color: '#c8202e', sx: 0.78});
T(1689, 1029, 'D4: Northern Germany 8-4 ka', {size: 14, align: 'left', color: '#9a9a9a', sx: 0.78});
T(1689, 1043, 'D5: Central Germany 8-4 ka', {size: 14, align: 'left', color: '#f39a22', sx: 0.78});
T(1689, 1050, 'derived from\nsingle 14C-dates\nper settlement site\n(Shennan et al., 2013)\n*note different scale', noteStyle);
T(1665, 1111, 'D2:\nPopulation\nlevels in Germany 7.5-2 ka\nderived from\nsingle 14C-dates\nper settlement\nsite (Shennan et al., 2007)', noteStyle);
T(1639, 1202, 'D1:\nEstimated\npopulation\ndensity in\nGermany\n(Zimmermann, 1996)', noteStyle);
T(1639, 1345, 'D6: (Tolksdorf & Kaiser, 2012)', {size: 13, align: 'left', sx: 0.8});

// D6 archaeological periods
const bar = (x1, x2, a, w = 3) => L(x1, Y(a), x2, Y(a), w);
T(1794, Y(250), 'Modern', {size: 21, sx: 0.8});
bar(1778, 1815, 610);
T(1792, Y(910), 'Medieval', {size: 21, sx: 0.8});
bar(1778, 1815, 1280);
T(1798, Y(1400), 'Migration', {size: 14, sx: 0.8}); T(1806, Y(1620), 'Period', {size: 14, sx: 0.8});
bar(1778, 1815, 1720);
T(1785, Y(1860), 'Roman', {size: 16, sx: 0.8});
bar(1767, 1792, 2000);
const rot = Math.PI / 2;
T(1767, Y(2290), 'pre-', {size: 15, rot, sx: 0.8}); T(1781, Y(2370), 'Roman', {size: 15, rot, sx: 0.8});
T(1798, Y(2360), 'Iron', {size: 22, rot, family: FH}); T(1814, Y(2330), 'Age', {size: 22, rot, family: FH});
bar(1778, 1815, 2760);
T(1783, Y(2960), 'y.', {size: 15, rot, sx: 0.8}); bar(1779, 1788, 3140, 3.5);
T(1783, Y(3290), 'm.', {size: 15, rot, sx: 0.8}); bar(1779, 1788, 3500, 3.5);
T(1783, Y(3810), 'early', {size: 15, rot, sx: 0.8});
T(1798, Y(3450), 'Bronze', {size: 22, rot, family: FH}); T(1814, Y(3410), 'Age', {size: 22, rot, family: FH});
bar(1778, 1815, 4150);
T(1790, Y(4600), 'younger', {size: 15, rot, sx: 0.8}); bar(1779, 1787, 4930, 3.5);
T(1790, Y(5390), 'middle', {size: 15, rot, sx: 0.8});
T(1813, Y(5300), 'Neolithic', {size: 24, rot, family: FH});
L(1780, Y(6090), 1788, Y(5990), 3);
T(1790, Y(6570), 'early', {size: 15, rot, sx: 0.8});
L(1778, Y(7210), 1815, Y(6710), 3);
T(1813, Y(9340), 'Mesolithic', {size: 24, rot, family: FH});

// panel E annotations
e1Zones.forEach(([a0, a1, name]) => T(1917, Y(name === 'Subatlantic' ? 1400 : name === 'Preboreal' ? 11180 : (a0 + a1) / 2), name, {size: 26, family: FH}));
const taxaX = [1840, 1863, 1878, 1893, 1905, 1917, 1942, 1972, 1992];
e1Taxa.forEach((t, i) => T(taxaX[i], 1022, t, {italic: true, size: 15, rot, align: 'right', sx: 0.85}));
[['Cooling', 'cooling', 1131], ['Modern temp.\nas reference', 'modern', 1171], ['Warming', 'warming', 1205]].forEach(([t, k, y]) => {
  G.push({type: 'rect', silent: true, z: 90, shape: {x: 2021, y: y - 13, width: 20, height: 26}, style: {fill: CLIMATE_COLORS[k], stroke: INK, lineWidth: 1}});
  T(2001, y, t, {size: 13, lh: 14, align: 'right', sx: 0.8});
});
T(1935, 1345, '(E1 & E2: Tolksdorf & Kaiser, 2012)', {size: 13, sx: 0.8});

chart.setOption({graphic: {elements: G}});
</script></body></html>
